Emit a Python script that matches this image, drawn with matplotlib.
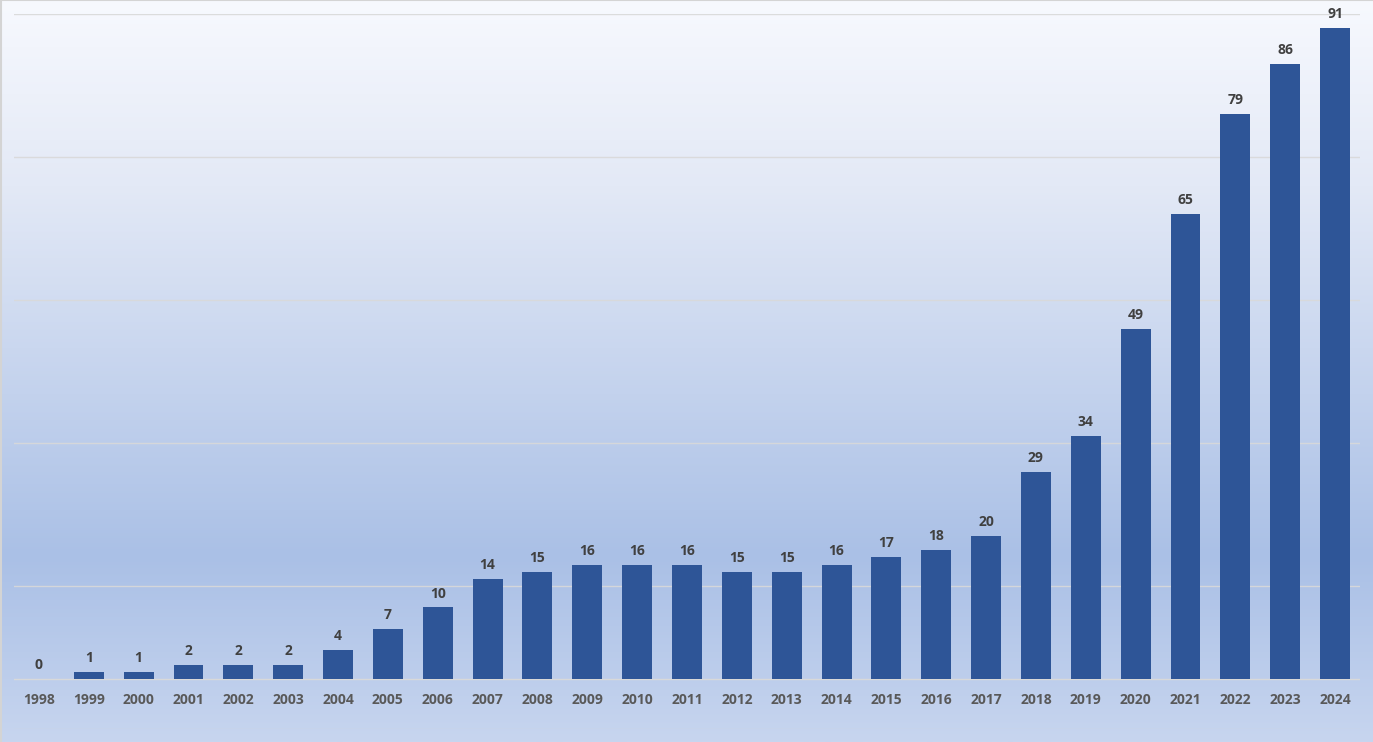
import numpy as np
import matplotlib.pyplot as plt
from matplotlib.colors import LinearSegmentedColormap

years = [str(y) for y in range(1998, 2025)]
counts = [0, 1, 1, 2, 2, 2, 4, 7, 10, 14, 15, 16, 16, 16, 15, 15, 16, 17, 18, 20,
          29, 34, 49, 65, 79, 86, 91]
grid_levels = [-7, 13, 33, 53, 73, 93]

plt.rcParams['font.family'] = ['Open Sans', 'DejaVu Sans']

fig = plt.figure(figsize=(13.73, 7.42), dpi=100)

# gradient background over the whole chart
bg = fig.add_axes([0, 0, 1, 1], zorder=-10)
cmap = LinearSegmentedColormap.from_list(
    'bg', [(0.0, '#f7f9fe'), (0.25, '#e3e9f6'), (0.75, '#aac0e6'), (1.0, '#c7d5ef')])
grad = np.linspace(0, 1, 256).reshape(-1, 1)
bg.imshow(grad, aspect='auto', cmap=cmap, extent=[0, 1, 0, 1], origin='upper')
bg.set_xlim(0, 1)
bg.set_ylim(0, 1)
bg.axis('off')
# thin outer border
bg.plot([0.0005, 0.0005], [0, 1], color='#d4d4d4', lw=1.5)
bg.plot([0, 1], [0.9995, 0.9995], color='#d4d4d4', lw=1.5)

ax = fig.add_axes([14 / 1373, 1 - 729 / 742, (1360 - 14) / 1373, (729 - 14) / 742])
ax.patch.set_alpha(0)

x = np.arange(len(years))
ax.bar(x, counts, width=0.6, color='#2e5597', zorder=3)

for lv in grid_levels:
    ax.axhline(lv, color='#d9d9d9', lw=1, zorder=1, alpha=0.9 if lv != -7 else 0.5)
ax.axhline(0, color='#d9d9d9', lw=1, zorder=2)

for xi, v in zip(x, counts):
    ax.annotate(str(v), (xi, v), xytext=(0, 5), textcoords='offset points',
                ha='center', va='bottom', fontsize=10, fontweight='bold',
                color='#404040')
    ax.text(xi, -2.9, years[xi], ha='center', va='center', fontsize=10,
            fontweight='bold', color='#595959')

ax.set_xlim(-0.5, len(years) - 0.5)
ax.set_ylim(-7, 93)
ax.set_xticks([])
ax.set_yticks([])
for s in ax.spines.values():
    s.set_visible(False)

fig.savefig('out.png', dpi=100)
